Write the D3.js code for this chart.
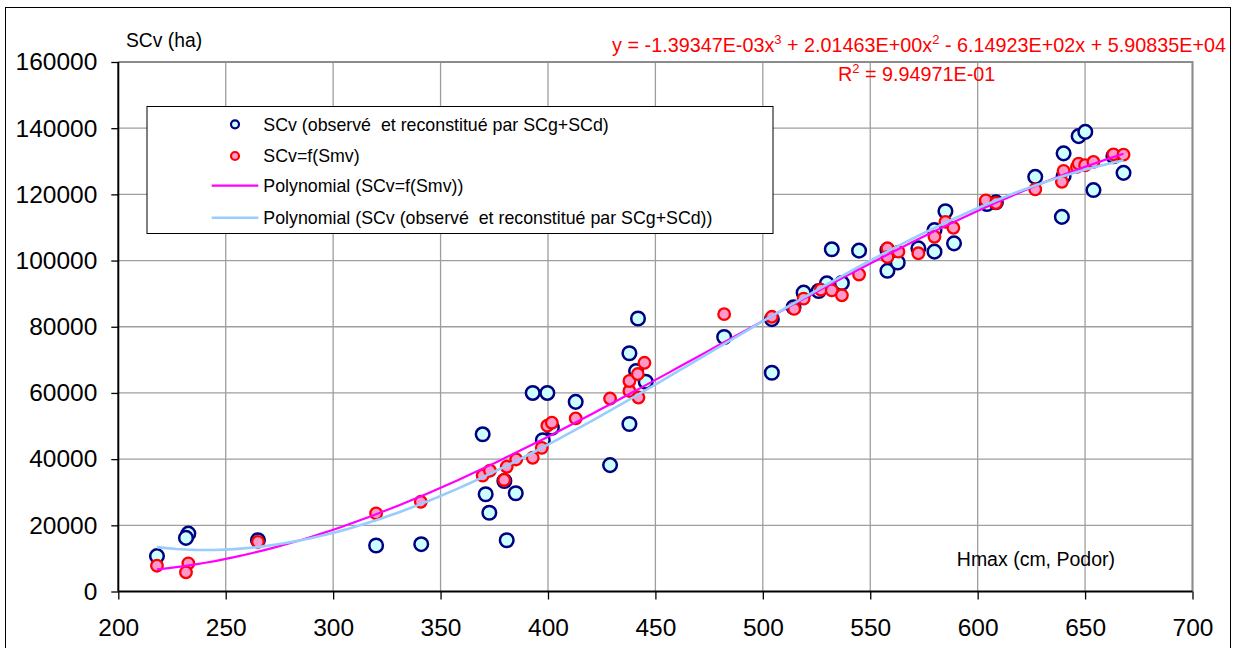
<!DOCTYPE html>
<html>
<head>
<meta charset="utf-8">
<script src="https://cdn.jsdelivr.net/npm/d3@7"></script>
<style>
  body { margin:0; background:#fff; }
  svg { display:block; font-family:"Liberation Sans", Arial, sans-serif; }
</style>
</head>
<body>
<svg id="chart" width="1236" height="648"></svg>
<script>
// SCv observed / reconstituted (SCg+SCd)
var obsH = [218,232.6,231.5,265,320,341,369.6,371,372.7,385,380.8,379.7,392.9,399.7,412.9,401.8,397.6,
  428.9,437.9,437.9,441.9,441,445.5,482,504.2,504.2,514.3,519,526,529.8,532.1,536.8,544.8,558,558,562.8,
  572.4,579.9,579.9,585,589,604.3,608.5,626.8,639.2,640,640,647,650.1,653.9,663.2,667.9];
var obsS = [10700,17500,16200,15500,13900,14300,47500,29400,23800,29700,15500,33400,60000,60000,57300,49500,45700,
  38200,50600,72000,82500,66600,63400,76900,82300,66100,85900,90300,90800,93100,103400,93200,103000,103200,96900,99400,
  103700,109200,102700,114900,105200,117100,117600,125300,113200,125500,132400,137600,138900,121300,131500,126500];

// SCv = f(Smv)
var smvH = [218,232.6,231.5,265,320,340.8,369.6,373,379.6,380.8,385.2,392.9,397.1,399.7,401.8,412.9,428.9,
  437.9,437.9,441.8,442.1,444.9,482,504.2,514.6,519,527,532.1,536.8,544.8,558,558,563.1,572.4,579.9,585,588.7,
  603.8,608.5,626.8,639.2,640,646.2,647,650,653.9,663.2,667.9];
var smvS = [7800,8500,5800,15000,23600,27100,35000,36500,33700,37700,39900,40400,43400,50100,51000,52300,58300,
  60600,63600,65700,58600,69100,83800,83000,85400,88500,91200,91000,89500,95800,103700,101100,102700,102200,107200,111700,109900,
  118200,117400,121500,123800,127100,128300,129300,128800,129800,132100,132000];

var xTicks = [200,250,300,350,400,450,500,550,600,650,700];
var yTicks = [0,20000,40000,60000,80000,100000,120000,140000,160000];

var legendLabels = ["SCv (observé  et reconstitué par SCg+SCd)", "SCv=f(Smv)",
  "Polynomial (SCv=f(Smv))", "Polynomial (SCv (observé  et reconstitué par SCg+SCd))"];

var svg = d3.select("#chart");
var x = d3.scaleLinear().domain([200,700]).range([118.3,1192.5]);
var y = d3.scaleLinear().domain([0,160000]).range([591.5,62]);

// outer frame
svg.append("rect").attr("x",5.5).attr("y",7.5).attr("width",1225).attr("height",660)
  .attr("fill","none").attr("stroke","#000").attr("stroke-width",1);

// grid
var grid = svg.append("g").attr("stroke","#9e9e9e").attr("stroke-width",1.3);
grid.selectAll(".gx").data(xTicks.slice(1)).enter().append("line")
  .attr("x1",function(d){return x(d);}).attr("x2",function(d){return x(d);})
  .attr("y1",y(0)).attr("y2",y(160000));
grid.selectAll(".gy").data(yTicks.slice(1)).enter().append("line")
  .attr("x1",x(200)).attr("x2",x(700))
  .attr("y1",function(d){return y(d);}).attr("y2",function(d){return y(d);});
// top / right border
svg.append("path").attr("fill","none").attr("stroke","#8c8c8c").attr("stroke-width",2)
  .attr("d","M"+x(200)+","+y(160000)+"H"+x(700)+"V"+y(0));

// axes
var xAxis = svg.append("g").attr("transform","translate(0,"+y(0)+")")
  .call(d3.axisBottom(x).tickValues(xTicks).tickSize(8).tickPadding(19).tickFormat(d3.format("d")));
var yAxis = svg.append("g").attr("transform","translate("+x(200)+",0)")
  .call(d3.axisLeft(y).tickValues(yTicks).tickSize(7).tickPadding(14).tickFormat(d3.format("d")));
[xAxis,yAxis].forEach(function(a){
  a.select(".domain").attr("stroke","#000").attr("stroke-width",2);
  a.selectAll(".tick line").attr("stroke","#000").attr("stroke-width",1.3);
  a.selectAll("text").attr("font-size","24.5px").attr("fill","#000")
    .attr("font-family","'Liberation Sans', Arial, sans-serif");
});
xAxis.select(".domain").attr("d","M"+x(200)+",0H"+x(700));
yAxis.select(".domain").attr("d","M0,"+y(160000)+"V"+y(0));

// least squares cubic, x centred for stability
function cubicFit(xs, ys){
  var n = 4, A = [], b = [];
  for (var i=0;i<n;i++){ A.push([0,0,0,0]); b.push(0); }
  xs.forEach(function(xv,k){
    var t = (xv-450)/100, p = [1,t,t*t,t*t*t];
    for (var i=0;i<n;i++){
      b[i] += p[i]*ys[k];
      for (var j=0;j<n;j++) A[i][j] += p[i]*p[j];
    }
  });
  for (var c=0;c<n;c++){
    for (var r=c+1;r<n;r++){
      var f = A[r][c]/A[c][c];
      for (var j=c;j<n;j++) A[r][j] -= f*A[c][j];
      b[r] -= f*b[c];
    }
  }
  var co = [0,0,0,0];
  for (var r=n-1;r>=0;r--){
    var s = b[r];
    for (var j=r+1;j<n;j++) s -= A[r][j]*co[j];
    co[r] = s/A[r][r];
  }
  return function(xv){ var t=(xv-450)/100; return co[0]+co[1]*t+co[2]*t*t+co[3]*t*t*t; };
}
function trendPoints(xs, ys){
  var f = cubicFit(xs, ys), lo = d3.min(xs), hi = d3.max(xs);
  return d3.range(0,101).map(function(i){ var v = lo+(hi-lo)*i/100; return [v, f(v)]; });
}

// markers
svg.append("g").selectAll("circle").data(d3.zip(obsH,obsS)).enter().append("circle")
  .attr("cx",function(d){return x(d[0]);}).attr("cy",function(d){return y(d[1]);})
  .attr("r",6.8).attr("fill","#ccffff").attr("stroke","#000080").attr("stroke-width",2.5);
svg.append("g").selectAll("circle").data(d3.zip(smvH,smvS)).enter().append("circle")
  .attr("cx",function(d){return x(d[0]);}).attr("cy",function(d){return y(d[1]);})
  .attr("r",5.8).attr("fill","#ff99cc").attr("stroke","#ff0000").attr("stroke-width",2.3);

// trendlines
var line = d3.line().x(function(d){return x(d[0]);}).y(function(d){return y(d[1]);});
svg.append("path").datum(trendPoints(smvH,smvS)).attr("d",line)
  .attr("fill","none").attr("stroke","#ff00ff").attr("stroke-width",2.2);
svg.append("path").datum(trendPoints(obsH,obsS)).attr("d",line)
  .attr("fill","none").attr("stroke","#99ccff").attr("stroke-width",2.6);

// axis titles
svg.append("text").attr("x",126).attr("y",47).attr("font-size","19.3px").text("SCv (ha)");
svg.append("text").attr("x",1115).attr("y",566).attr("font-size","19.5px")
  .attr("text-anchor","end").text("Hmax (cm, Podor)");

// equation
var eq = svg.append("text").attr("x",1226).attr("y",52).attr("font-size","19.8px")
  .attr("fill","#ff0000").attr("text-anchor","end");
eq.append("tspan").text("y = -1.39347E-03x");
eq.append("tspan").attr("dy",-8).attr("font-size","13px").text("3");
eq.append("tspan").attr("dy",8).text(" + 2.01463E+00x");
eq.append("tspan").attr("dy",-8).attr("font-size","13px").text("2");
eq.append("tspan").attr("dy",8).text(" - 6.14923E+02x + 5.90835E+04");
var r2 = svg.append("text").attr("x",838).attr("y",80.5).attr("font-size","19.8px").attr("fill","#ff0000");
r2.append("tspan").text("R");
r2.append("tspan").attr("dy",-8).attr("font-size","13px").text("2");
r2.append("tspan").attr("dy",8).text(" = 9.94971E-01");

// legend
var lg = svg.append("g");
lg.append("rect").attr("x",147).attr("y",106.5).attr("width",626).attr("height",127)
  .attr("fill","#fff").attr("stroke","#000").attr("stroke-width",1);
var rowY = [124.3,156,185.7,217.7];
lg.append("circle").attr("cx",235).attr("cy",rowY[0]).attr("r",4)
  .attr("fill","#ccffff").attr("stroke","#000080").attr("stroke-width",2.2);
lg.append("circle").attr("cx",235).attr("cy",rowY[1]).attr("r",4)
  .attr("fill","#ff99cc").attr("stroke","#ff0000").attr("stroke-width",2.2);
lg.append("line").attr("x1",211.7).attr("x2",258.3).attr("y1",rowY[2]).attr("y2",rowY[2])
  .attr("stroke","#ff00ff").attr("stroke-width",2.2);
lg.append("line").attr("x1",211.7).attr("x2",258.3).attr("y1",rowY[3]).attr("y2",rowY[3])
  .attr("stroke","#99ccff").attr("stroke-width",2.6);
lg.selectAll(".lt").data(legendLabels).enter().append("text")
  .attr("x",263.3).attr("y",function(d,i){return rowY[i];})
  .attr("dy","0.35em").attr("font-size","17.8px").style("white-space","pre")
  .text(function(d){return d;});
</script>
</body>
</html>
